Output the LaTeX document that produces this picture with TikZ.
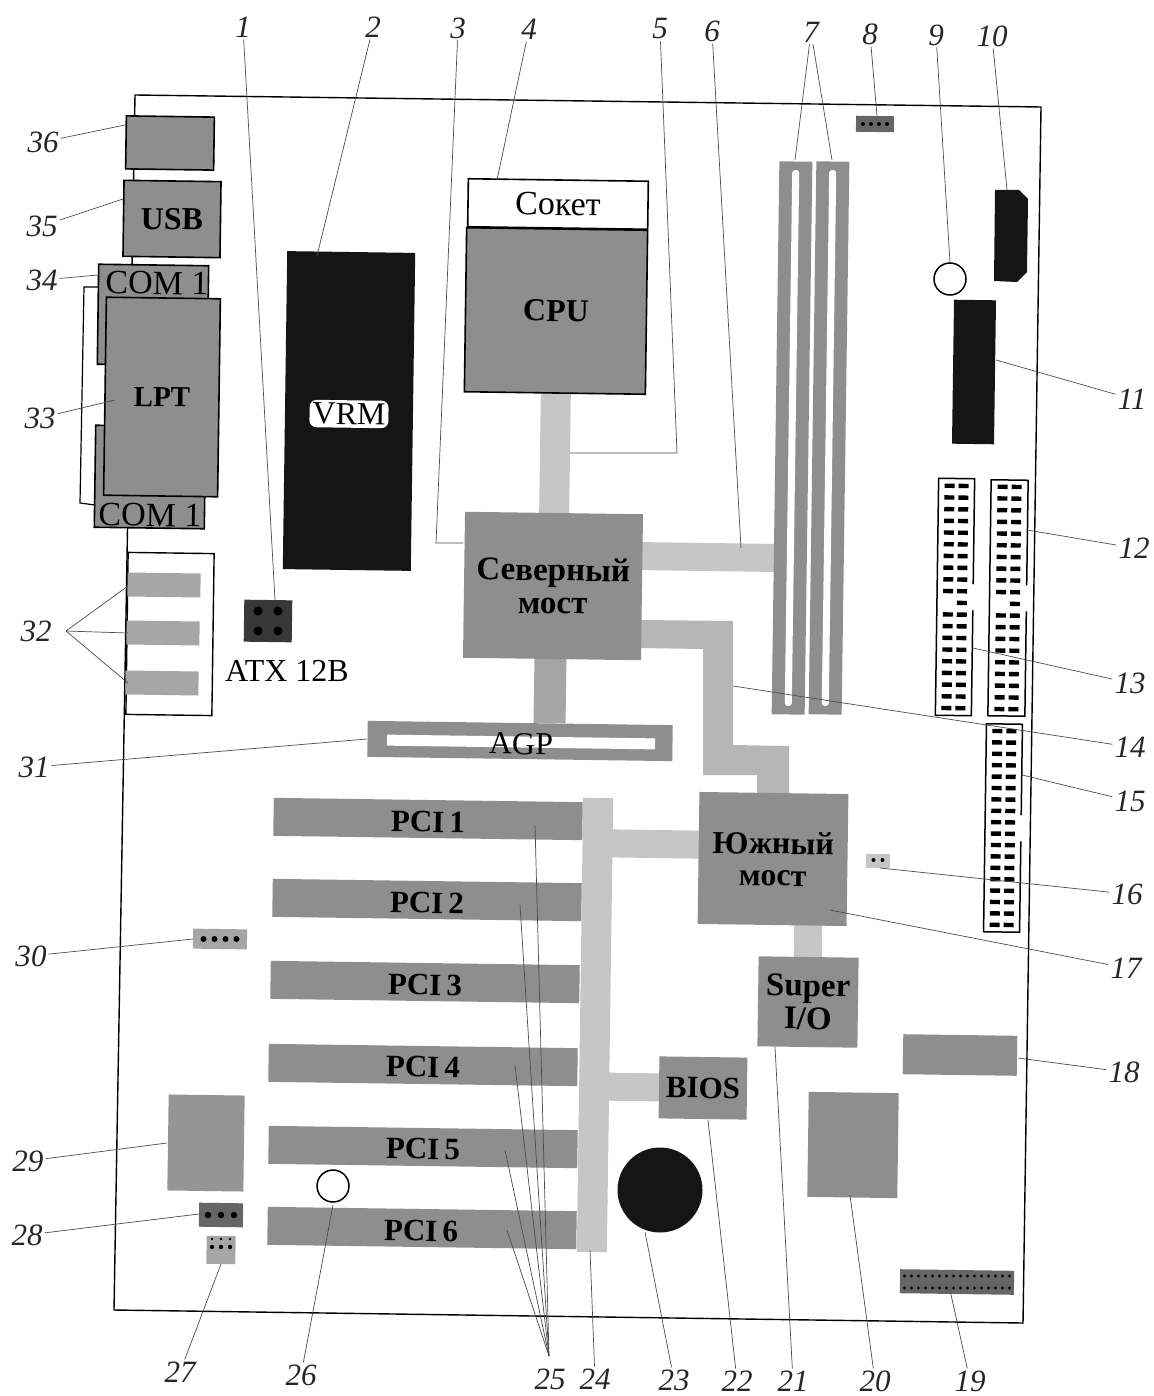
\documentclass[tikz,border=0pt]{standalone}
\usepackage{fontspec}
\setmainfont{Liberation Serif}
\definecolor{blockg}{HTML}{8E8E8E}
\definecolor{midg}{HTML}{A6A6A6}
\definecolor{busg}{HTML}{C6C6C6}
\definecolor{dark}{HTML}{151515}
\newcommand{\fsz}[1]{\fontsize{#1}{#1}\selectfont}
\tikzset{
  x=1pt,y=-1pt,
  blk/.style 2 args={rectangle,rotate=-0.8,inner sep=0pt,outer sep=0pt,minimum width=#1 pt,minimum height=#2 pt,fill=blockg,text=black,align=center,font=\bfseries\fsz{31}},
  edged/.style={draw=black,line width=1.6pt},
  lab/.style={inner sep=2pt,font=\itshape\fsz{31},text=black!85},
  lead/.style={draw=black!70,line width=0.7pt},
  pinbar/.style={fill=black},
  slit/.style={rectangle,rotate=-0.8,inner sep=0pt,minimum width=7pt,minimum height=536pt,fill=white,rounded corners=3pt},
}
\newcommand{\hdr}[5]{%
  \node[blk={#4}{#5},fill=white,draw=black,line width=1.5pt] (#1) at (#2,#3) {};
}
\newcommand{\hdrpins}[5]{%
  \begin{scope}[shift={(#1,#2)},rotate=-0.8]
    \fill[white] (16,-13) rectangle (21,13);
    \foreach \r in {1,...,#3}{
      \pgfmathsetmacro{\yy}{(\r-(#3+1)/2)*#4}
      \ifnum\r=#5\relax\else\fill[pinbar] (-12,\yy-2.2) rectangle (-2,\yy+2.2);\fi
      \fill[pinbar] (2,\yy-2.2) rectangle (12,\yy+2.2);
    }
  \end{scope}
}
\newcommand{\dotrow}[5]{%
  \foreach \i in {1,...,#3}{
    \pgfmathsetmacro{\xx}{#1+(\i-(#3+1)/2)*#4}
    \fill[black] (\xx,#2) circle[radius=#5];
  }
}
\begin{document}
\begin{tikzpicture}
\useasboundingbox (0,0) rectangle (1153,1396);
\fill[white] (0,0) rectangle (1153,1396);

% board
\coordinate (bTL) at (135,95); \coordinate (bTR) at (1041,107);
\coordinate (bBR) at (1023,1323); \coordinate (bBL) at (114,1310);
\draw[black,line width=1.4pt] (bTL) -- (bTR) -- (bBR) -- (bBL) -- cycle;

% back panel
\node[blk={88}{53},edged] (n36) at (170,143) {};
\node[blk={97}{76},edged,font=\bfseries\fsz{32}] (usb) at (172,219) {USB};
\node[blk={110}{100},edged] (coma) at (153,315) {};
\node[blk={110}{102},edged] (comb) at (150,477) {};
\node[font=\fsz{34},rotate=-0.8,inner sep=0pt] (comat) at (157,283) {COM 1};
\node[font=\fsz{34},rotate=-0.8,inner sep=0pt] (combt) at (150,515) {COM 1};
\node[blk={114}{198},edged,font=\bfseries\fsz{29}] (lpt) at (162,397) {LPT};
\coordinate (bra) at (98,287); \coordinate (brb) at (84,287);
\coordinate (brc) at (80,503); \coordinate (brd) at (95,505);
\draw[black,line width=1.2pt] (bra) -- (brb) -- (brc) -- (brd);

% riser box
\node[blk={86}{162},fill=white,draw=black,line width=1.4pt] (box32) at (170,634) {};
\node[blk={73}{24},fill=midg] (s1) at (164,585) {};
\node[blk={73}{24},fill=midg] (s2) at (163,633) {};
\node[blk={73}{24},fill=midg] (s3) at (162,683) {};

% ATX
\node[blk={48}{42},fill=dark!85!white] (atx) at (268,621) {};
\fill[black] (258,611) circle[radius=4.5] (278,611) circle[radius=4.5] (258,631) circle[radius=4.5] (278,631) circle[radius=4.5];
\node[font=\fsz{32},inner sep=0pt] (atxt) at (287,671) {ATX 12B};

% VRM
\node[blk={128}{318},fill=dark] (vrmb) at (349,411) {};
\node[rectangle,rounded corners=7pt,fill=white,inner sep=3pt,font=\fsz{32},rotate=-0.8] (vrm) at (349,414) {VRM};

% buses (drawn below blocks)
\node[blk={30}{124},fill=busg] (b1) at (555,452) {};
\node[blk={135}{28},fill=busg] (b2) at (708,557) {};
\node[blk={32}{66},fill=midg] (b3) at (550,690) {};
\coordinate (pa) at (640,620); \coordinate (pb) at (733,621); \coordinate (pc) at (733,745);
\coordinate (pd) at (789,746); \coordinate (pe) at (789,796); \coordinate (pf) at (757,796);
\coordinate (pg) at (757,775); \coordinate (ph) at (703,775); \coordinate (pi) at (703,649); \coordinate (pj) at (640,648);
\fill[busg!92!black] (pa) -- (pb) -- (pc) -- (pd) -- (pe) -- (pf) -- (pg) -- (ph) -- (pi) -- (pj) -- cycle;
\node[blk={30}{454},fill=busg] (pcibus) at (595,1025) {};
\node[blk={90}{28},fill=busg] (b4) at (655,844) {};
\node[blk={58}{28},fill=busg] (b5) at (632,1087) {};
\node[blk={28}{36},fill=busg] (b6) at (808,940) {};

% CPU
\node[blk={180}{48},fill=white,draw=black,line width=1.6pt,font=\fsz{34}] (socket) at (558,204) {Сокет};
\node[blk={181}{164},edged,font=\bfseries\fsz{32}] (cpu) at (556,311) {CPU};

% Bridges
\node[blk={178}{146},font=\bfseries\fsz{33}] (nb) at (553,586) {Северный\\мост};
\node[blk={149}{132},font=\bfseries\fsz{32}] (sb) at (773,859) {Южный\\мост};
\node[blk={100}{90},font=\bfseries\fsz{33}] (sio) at (808,1002) {Super\\I/O};
\node[blk={88}{62},font=\bfseries\fsz{31}] (bios) at (703,1088) {BIOS};

% AGP
\node[blk={305}{36}] (agpb) at (520,741) {};
\node[blk={268}{11},fill=white] (agps) at (521,742) {};
\node[font=\fsz{32},rotate=-0.8,inner sep=0pt] (agpt) at (521,744) {AGP};

% Memory
\node[blk={33}{553}] (m1) at (792,438) {};
\node[slit] (m1s) at (792,438) {};
\node[blk={33}{553}] (m2) at (829,438) {};
\node[slit] (m2s) at (829,438) {};

% PCI
\node[blk={309}{38},fill=blockg] (p1) at (428,819) {};
\node[blk={309}{38},fill=blockg] (p2) at (427,900) {};
\node[blk={309}{38},fill=blockg] (p3) at (425,982) {};
\node[blk={309}{38},fill=blockg] (p4) at (423,1065) {};
\node[blk={309}{38},fill=blockg] (p5) at (423,1147) {};
\node[blk={309}{38},fill=blockg] (p6) at (422,1228) {};
\foreach \t/\x/\y in {1/428/822,2/427/903,3/425/985,4/423/1067,5/423/1149,6/421/1231}{
  \node[font=\bfseries\fsz{31},rotate=-0.8,inner sep=0pt] (pt\t) at (\x,\y) {PCI\,\t};
}

% misc blocks
\node[blk={114}{40}] (n18) at (960,1055) {};
\node[blk={90}{105}] (n20) at (853,1145) {};
\node[blk={114}{24},fill=black!60] (n19) at (957,1282) {};
\dotrow{957}{1276}{16}{7}{1.6}
\dotrow{957}{1288}{16}{7}{1.6}
\node[circle,fill=dark,minimum size=85pt,inner sep=0pt] (batt) at (660,1190) {};
\node[blk={76}{96},fill=midg!90!black] (n29) at (206,1143) {};
\node[blk={44}{24},fill=black!60] (n28) at (221,1215) {};
\dotrow{221}{1215}{3}{13}{3.2}
\node[blk={29}{28},fill=midg] (n27) at (221,1250) {};
\dotrow{221}{1239}{3}{9}{1.3}
\dotrow{221}{1247}{3}{9}{2.2}
\node[circle,draw=black,line width=1.5pt,fill=white,minimum size=32pt,inner sep=0pt] (n26) at (333,1186) {};
\node[blk={54}{20},fill=midg] (n30) at (220,939) {};
\dotrow{220}{939}{4}{11}{3}
\node[blk={24}{14},fill=busg] (n16) at (878,861) {};
\dotrow{878}{860}{2}{9}{2}
\node[blk={38}{16},fill=black!60] (n8) at (875,124) {};
\dotrow{875}{124}{4}{8}{2}
\fill[dark] (995,190) -- (1019,190) -- (1028,199) -- (1027,272) -- (1017,282) -- (994,281) -- cycle;
\node[circle,draw=black,line width=1.5pt,fill=white,minimum size=32pt,inner sep=0pt] (n9) at (950,279) {};
\node[blk={42}{144},fill=dark] (n11) at (974,372) {};

% connectors with pins
\hdr{h13}{955}{597}{36}{237}
\hdrpins{955}{597}{20}{11.7}{11}
\hdr{h12}{1008}{598}{37}{236}
\hdrpins{1008}{598}{20}{11.7}{11}
\hdr{h15}{1003}{828}{36}{208}
\hdrpins{1003}{828}{18}{11.4}{0}

% numbered labels with single leaders
\foreach \n/\lx/\ly/\tx/\ty in {
  1/243/27/275/600, 2/373/27/317/256, 4/529/29/497/180, 6/712/31/741/548,
  8/870/34/877/116, 9/936/35/950/263, 10/992/36/1007/190,
  11/1132/399/996/360, 12/1134/548/1027/530, 13/1130/683/973/648,
  14/1130/747/733/686, 15/1130/801/1022/775, 16/1127/894/880/868,
  17/1126/968/830/910, 18/1124/1072/1018/1058, 19/970/1381/950/1290,
  20/875/1381/850/1195, 21/793/1381/775/1047, 22/737/1381/708/1120,
  23/674/1380/645/1232, 24/595/1379/590/1250, 26/301/1375/333/1205,
  27/180/1372/221/1264, 28/27/1235/199/1214, 29/28/1161/167/1143,
  30/31/956/193/939, 31/34/767/367/739, 33/40/418/115/400,
  34/42/280/98/275, 35/42/226/123/199, 36/43/142/125/125}{
  \node[lab] (l\n) at (\lx,\ly) {\n};
  \coordinate (t\n) at (\tx,\ty);
  \draw[lead] (l\n) -- (t\n);
}
% bent and multiple leaders
\node[lab] (l3) at (458,28) {3};
\coordinate (k3) at (436,543); \coordinate (t3) at (463,543);
\draw[lead] (l3) -- (k3) -- (t3);
\node[lab] (l5) at (660,29) {5};
\coordinate (k5) at (677,453); \coordinate (t5) at (570,453);
\draw[lead] (l5) -- (k5) -- (t5);
\node[lab] (l7) at (811,32) {7};
\coordinate (t7a) at (795,160); \coordinate (t7b) at (832,160);
\draw[lead] (l7) -- (t7a); \draw[lead] (l7) -- (t7b);
\node[lab] (l25) at (550,1379) {25};
\coordinate (a25) at (549,1356);
\foreach \i/\x/\y in {1/535/825,2/520/905,3/515/1065,4/505/1150,5/507/1230}{
  \coordinate (t25\i) at (\x,\y);
  \draw[lead] (a25) -- (t25\i);
}
\node[lab] (l32) at (36,631) {32};
\coordinate (a32) at (66,631);
\foreach \i/\x/\y in {1/128/586,2/128/633,3/128/683}{
  \coordinate (t32\i) at (\x,\y);
  \draw[lead] (a32) -- (t32\i);
}
\end{tikzpicture}
\end{document}
